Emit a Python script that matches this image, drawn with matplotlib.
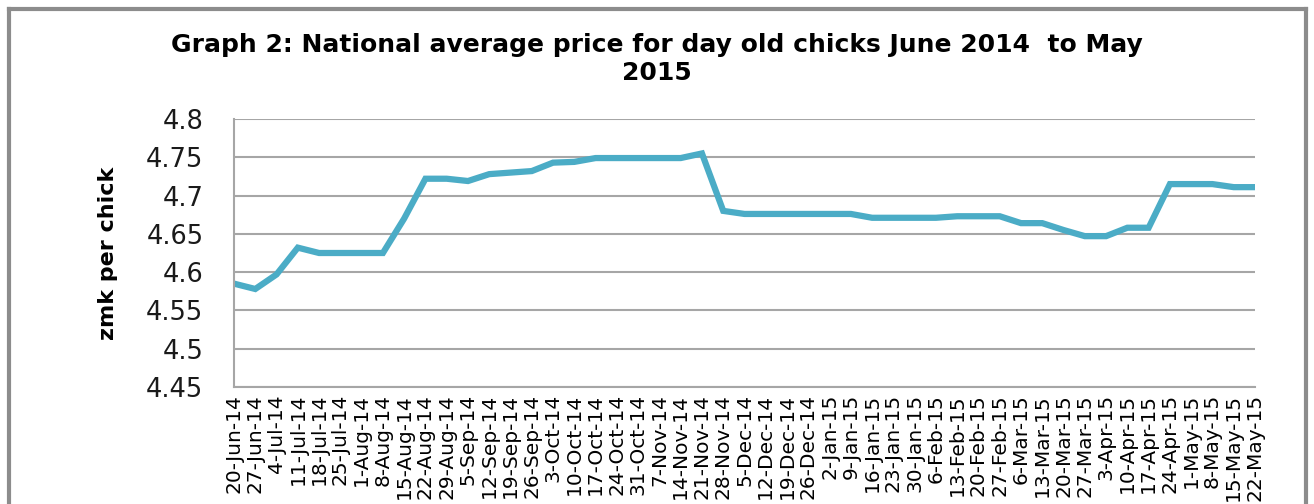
import numpy as np
import matplotlib.pyplot as plt
from matplotlib.lines import Line2D

dates = ['20-Jun-14', '27-Jun-14', '4-Jul-14', '11-Jul-14', '18-Jul-14',
         '25-Jul-14', '1-Aug-14', '8-Aug-14', '15-Aug-14', '22-Aug-14',
         '29-Aug-14', '5-Sep-14', '12-Sep-14', '19-Sep-14', '26-Sep-14',
         '3-Oct-14', '10-Oct-14', '17-Oct-14', '24-Oct-14', '31-Oct-14',
         '7-Nov-14', '14-Nov-14', '21-Nov-14', '28-Nov-14', '5-Dec-14',
         '12-Dec-14', '19-Dec-14', '26-Dec-14', '2-Jan-15', '9-Jan-15',
         '16-Jan-15', '23-Jan-15', '30-Jan-15', '6-Feb-15', '13-Feb-15',
         '20-Feb-15', '27-Feb-15', '6-Mar-15', '13-Mar-15', '20-Mar-15',
         '27-Mar-15', '3-Apr-15', '10-Apr-15', '17-Apr-15', '24-Apr-15',
         '1-May-15', '8-May-15', '15-May-15', '22-May-15']
price = [4.585, 4.578, 4.597, 4.632, 4.625, 4.625, 4.625, 4.625, 4.670,
         4.722, 4.722, 4.719, 4.728, 4.730, 4.732, 4.743, 4.744, 4.749,
         4.749, 4.749, 4.749, 4.749, 4.755, 4.680, 4.676, 4.676, 4.676,
         4.676, 4.676, 4.676, 4.671, 4.671, 4.671, 4.671, 4.673, 4.673,
         4.673, 4.664, 4.664, 4.655, 4.647, 4.647, 4.658, 4.658, 4.715,
         4.715, 4.715, 4.711, 4.711]
yticks = [4.45, 4.5, 4.55, 4.6, 4.65, 4.7, 4.75, 4.8]
ytick_labels = ['4.45', '4.5', '4.55', '4.6', '4.65', '4.7', '4.75', '4.8']

fig = plt.figure(figsize=(13.14, 5.04), dpi=100)
ax = fig.add_axes([234 / 1314, 1 - 387 / 504, 1021 / 1314, 268 / 504])

x = np.arange(len(dates))
ax.plot(x, price, color='#4bacc6', lw=4.5, solid_joinstyle='miter')

ax.set_xlim(0, len(dates) - 1)
ax.set_ylim(4.45, 4.8)
ax.set_yticks(yticks)
ax.set_yticklabels(ytick_labels, fontsize=18.5, color='#1a1a1a')
ax.set_xticks(x)
ax.set_xticklabels(dates, rotation=90, fontsize=14.5, color='black')
ax.tick_params(axis='y', length=0, pad=22)
ax.tick_params(axis='x', length=0, pad=5)
ax.grid(axis='y', color='#a6a6a6', lw=1.5)
ax.set_axisbelow(True)
for s in ['top', 'right']:
    ax.spines[s].set_visible(False)
for s in ['left', 'bottom']:
    ax.spines[s].set_color('#a6a6a6')
    ax.spines[s].set_linewidth(1.5)

ax.set_ylabel('zmk per chick', fontsize=16, fontweight='bold', labelpad=20)

fig.text(0.5, 1 - 45 / 504,
         'Graph 2: National average price for day old chicks June 2014  to May',
         ha='center', va='center', fontsize=18, fontweight='bold')
fig.text(0.5, 1 - 73 / 504, '2015', ha='center', va='center',
         fontsize=18, fontweight='bold')

# grey frame of the chart box (bottom edge cut off)
bc = '#8c8c8c'
fig.add_artist(Line2D([9 / 1314, 9 / 1314], [0, 1 - 9 / 504],
                      color=bc, lw=3, transform=fig.transFigure))
fig.add_artist(Line2D([9 / 1314, 1306 / 1314], [1 - 9 / 504, 1 - 9 / 504],
                      color=bc, lw=3, transform=fig.transFigure))
fig.add_artist(Line2D([1306 / 1314, 1306 / 1314], [0, 1 - 9 / 504],
                      color=bc, lw=3, transform=fig.transFigure))

plt.savefig('out.png', dpi=100)
plt.close()
